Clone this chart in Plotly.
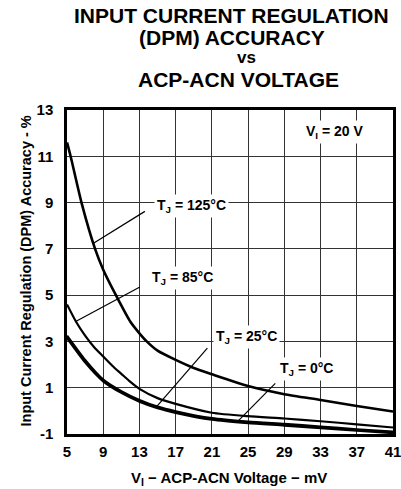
import plotly.graph_objects as go

# ---- data ----
v_125 = [5, 5.4, 6.6, 8.1, 9, 10.4, 12, 13, 13.8, 15, 17, 19, 21, 25, 29, 33, 37, 41]
a_125 = [11.6, 11.0, 9.0, 7.0, 6.1, 5.0, 3.85, 3.35, 3.0, 2.6, 2.2, 1.85, 1.58, 1.07, 0.72, 0.47, 0.21, -0.03]

v_85 = [5, 6, 7, 8, 9, 10, 11, 12, 13, 15, 17, 21, 25, 29, 33, 37, 41]
a_85 = [4.6, 3.85, 3.25, 2.75, 2.35, 1.95, 1.6, 1.25, 0.95, 0.55, 0.3, -0.08, -0.23, -0.33, -0.45, -0.58, -0.72]

v_25 = [5, 7, 9, 11, 13, 15, 17, 21, 25, 29, 33, 37, 41]
a_25 = [3.25, 2.2, 1.35, 0.85, 0.47, 0.18, -0.02, -0.32, -0.47, -0.57, -0.68, -0.8, -0.9]

v_0 = [5, 7, 9, 11, 13, 15, 17, 21, 25, 29, 33, 37, 41]
a_0 = [3.15, 2.1, 1.28, 0.78, 0.4, 0.12, -0.08, -0.38, -0.53, -0.63, -0.74, -0.85, -0.96]

x_ticks = [5, 9, 13, 17, 21, 25, 29, 33, 37, 41]
y_ticks = [-1, 1, 3, 5, 7, 9, 11, 13]

W, H = 401, 489
ML, MR, MT, MB = 67, 8, 110, 55
PW, PH = W - ML - MR, H - MT - MB

def px(xp):
    return (xp - ML) / PW

def py(yp):
    return 1 - (yp - MT) / PH

FONT = "Liberation Sans, Arial, sans-serif"

fig = go.Figure()
for xs, ys, w in [(v_125, a_125, 2.6), (v_85, a_85, 2.2), (v_25, a_25, 2.4), (v_0, a_0, 2.4)]:
    fig.add_trace(go.Scatter(x=xs, y=ys, mode="lines",
                             line=dict(color="black", width=w, shape="spline", smoothing=0.6),
                             showlegend=False, hoverinfo="skip"))

# leader lines
leaders = [((13.6, 8.62), (7.88, 7.23)),
           ((13.05, 5.35), (5.96, 3.86)),
           ((20.5, 2.71), (14.9, 0.18)),
           ((28.0, 1.19), (23.94, -0.42))]
for (x0, y0), (x1, y1) in leaders:
    fig.add_shape(type="line", x0=x0, y0=y0, x1=x1, y1=y1, xref="x", yref="y",
                  line=dict(color="black", width=1.2))

labels = [("T<sub>J</sub> = 125°C", 18.7, 8.84),
          ("T<sub>J</sub> = 85°C", 17.8, 5.75),
          ("T<sub>J</sub> = 25°C", 24.8, 3.2),
          ("T<sub>J</sub> = 0°C", 31.4, 1.8),
          ("V<sub>I</sub> = 20 V", 34.5, 12.04)]
for t, x, y in labels:
    fig.add_annotation(text="<b>" + t + "</b>", x=x, y=y, xref="x", yref="y",
                       showarrow=False, bgcolor="white", borderpad=2,
                       font=dict(family=FONT, size=14, color="black"))

# title lines
title_lines = [("INPUT CURRENT REGULATION", 231, 15, 21),
               ("(DPM) ACCURACY", 231.5, 37.5, 21),
               ("vs", 246, 57.5, 17),
               ("ACP-ACN VOLTAGE", 239, 79, 21)]
for t, xc, yc, s in title_lines:
    fig.add_annotation(text="<b>" + t + "</b>", x=px(xc), y=py(yc), xref="paper", yref="paper",
                       showarrow=False, xanchor="center", yanchor="middle",
                       font=dict(family=FONT, size=s, color="black"))

# axis titles
fig.add_annotation(text="<b>V<sub>I</sub> − ACP-ACN Voltage − mV</b>", x=px(228.5), y=py(478),
                   xref="paper", yref="paper", showarrow=False, xanchor="center", yanchor="middle",
                   font=dict(family=FONT, size=15, color="black"))
fig.add_annotation(text="<b>Input Current Regulation (DPM) Accuracy - %</b>", x=px(25), y=py(271.5),
                   xref="paper", yref="paper", showarrow=False, textangle=-90,
                   xanchor="center", yanchor="middle",
                   font=dict(family=FONT, size=14.5, color="black"))

axis_common = dict(showgrid=True, gridcolor="#333333", gridwidth=1,
                   showline=True, linecolor="black", linewidth=2.5, mirror=True,
                   zeroline=False, ticks="", automargin=False, ticklabeloverflow="allow",
                   tickfont=dict(family=FONT, size=15, color="black"))

fig.update_xaxes(range=[5, 41], tickvals=x_ticks, ticktext=["<b>%d</b>" % v for v in x_ticks],
                 ticklabelstandoff=2, **axis_common)
fig.update_yaxes(range=[-1, 13], tickvals=y_ticks, ticktext=["<b>%d</b>" % v for v in y_ticks],
                 ticklabelstandoff=8, **axis_common)

fig.update_layout(width=W, height=H, margin=dict(l=ML, r=MR, t=MT, b=MB, autoexpand=False),
                  paper_bgcolor="white", plot_bgcolor="white",
                  font=dict(family=FONT, color="black"))

fig.write_html("out.html", post_script="document.body.style.margin='0';",
               config={"displayModeBar": False})
